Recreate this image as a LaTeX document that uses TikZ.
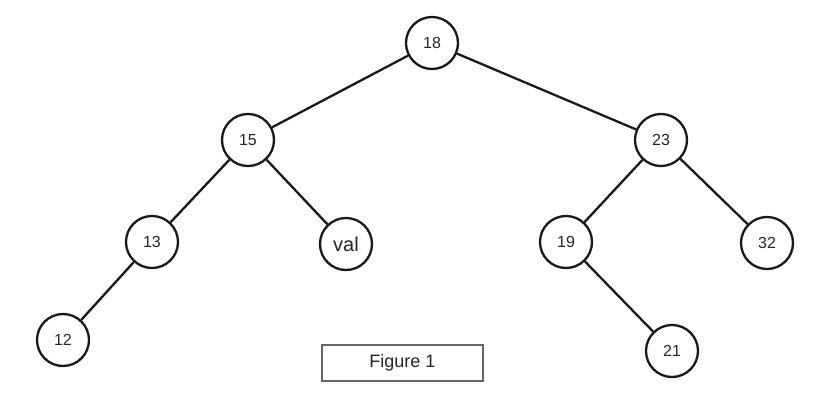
\documentclass[tikz,border=0pt]{standalone}
\usepackage{fontspec}
\setmainfont{Liberation Sans}
\begin{document}
\begin{tikzpicture}[x=1pt,y=-1pt,
  tn/.style={circle,draw=black!90,line width=2.3pt,minimum size=52pt,inner sep=0pt,font=\fontsize{16}{16}\selectfont,text=black!85},
  edge/.style={line width=2.3pt,draw=black!90}]
\useasboundingbox (0,0) rectangle (820,397);
\node[tn] (n18) at (432,43) {18};
\node[tn] (n15) at (248,140) {15};
\node[tn] (n23) at (661,140) {23};
\node[tn] (n13) at (152,242) {13};
\node[tn,font=\fontsize{20}{20}\selectfont] (nval) at (346,244) {val};
\node[tn] (n19) at (566,242) {19};
\node[tn] (n32) at (767,243) {32};
\node[tn] (n12) at (63,340) {12};
\node[tn] (n21) at (672,351) {21};
\draw[edge] (n18) -- (n15);
\draw[edge] (n18) -- (n23);
\draw[edge] (n15) -- (n13);
\draw[edge] (n15) -- (nval);
\draw[edge] (n23) -- (n19);
\draw[edge] (n23) -- (n32);
\draw[edge] (n13) -- (n12);
\draw[edge] (n19) -- (n21);
\node[draw=black!60,line width=1.3pt,minimum width=161pt,minimum height=36pt,inner sep=0pt,font=\fontsize{18}{18}\selectfont,text=black!85] (fig) at (402.5,363) {Figure 1};
\end{tikzpicture}
\end{document}
